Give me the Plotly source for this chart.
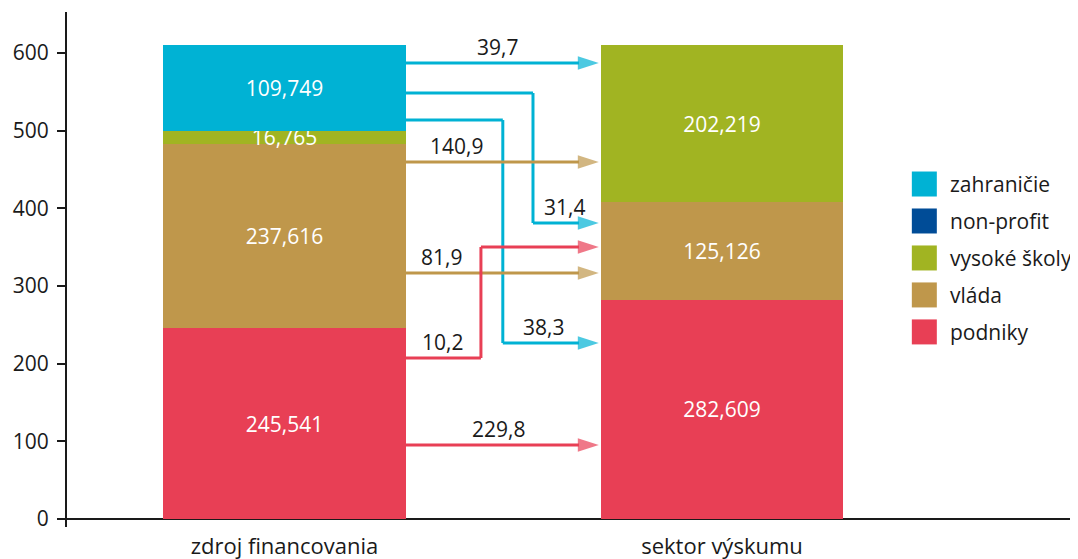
import plotly.graph_objects as go

# ---------------- data ----------------
categories = ["zdroj financovania", "sektor výskumu"]
series_names = ["podniky", "vláda", "vysoké školy", "non-profit", "zahraničie"]
podniky = [245.541, 282.609]
vlada = [237.616, 125.126]
vysoke_skoly = [16.765, 202.219]
non_profit = [0.3, 0.0]
zahranicie = [109.749, 0.0]
series_values = [podniky, vlada, vysoke_skoly, non_profit, zahranicie]

flow_source = ["zahraničie", "zahraničie", "zahraničie", "vláda", "vláda", "podniky", "podniky"]
flow_target = ["vysoké školy", "vláda", "podniky", "vysoké školy", "vláda", "vláda", "podniky"]
flow_values = [39.7, 31.4, 38.3, 140.9, 81.9, 10.2, 229.8]

y_ticks = [0, 100, 200, 300, 400, 500, 600]

# ---------------- layout of the flow arrows (axis units) ----------------
flow_y_out = [587.1, 548.5, 513.7, 459.6, 316.7, 207.3, 95.3]
flow_y_in = [587.1, 381.1, 226.6, 459.6, 316.7, 350.2, 95.3]
flow_x_bend = [None, 0.568, 0.499, None, None, 0.449, None]
flow_label_x = [0.488, 0.641, 0.593, 0.394, 0.358, 0.362, 0.490]
flow_label_on_in = [False, True, True, False, False, False, False]

# ---------------- styles ----------------
colors = {
    "zahraničie": "#00B2D4",
    "non-profit": "#004C97",
    "vysoké školy": "#A1B422",
    "vláda": "#BF974B",
    "podniky": "#E83F55",
}
FONT = "Open Sans, Noto Sans, sans-serif"
TXT = "#1a1a1a"
FS = 21
BAR_W = 0.5554
TIP_GAP = 0.004

bar_x = list(range(len(categories)))

fig = go.Figure()

for name, vals in zip(series_names, series_values):
    labels = [f"{v:.3f}".replace(".", ",") if v >= 1 else "" for v in vals]
    fig.add_trace(go.Bar(
        x=bar_x, y=vals, name=name, width=BAR_W,
        marker=dict(color=colors[name], line=dict(width=0)),
        text=labels, textposition="inside", insidetextanchor="middle",
        textangle=0, textfont=dict(color="white", size=FS, family=FONT),
        showlegend=False, hoverinfo="skip",
    ))

x_start = bar_x[0] + BAR_W / 2
x_end = bar_x[1] - BAR_W / 2 - TIP_GAP

for src, val, yo, yi, xb, lx, on_in in zip(flow_source, flow_values, flow_y_out,
                                           flow_y_in, flow_x_bend, flow_label_x,
                                           flow_label_on_in):
    if xb is None:
        xs, ys = [x_start, x_end], [yo, yi]
    else:
        xs, ys = [x_start, xb, xb, x_end], [yo, yo, yi, yi]
    sizes = [0] * (len(xs) - 1) + [22]
    fig.add_trace(go.Scatter(
        x=xs, y=ys, mode="lines+markers",
        line=dict(color=colors[src], width=3),
        marker=dict(symbol="arrow", size=sizes, angleref="previous",
                    color=colors[src], line=dict(width=0)),
        showlegend=False, hoverinfo="skip",
    ))
    fig.add_annotation(
        x=lx, y=(yi if on_in else yo), xref="x", yref="y",
        text=f"{val:.1f}".replace(".", ","), showarrow=False,
        yanchor="bottom", xanchor="center", yshift=0,
        font=dict(size=FS, color=TXT, family=FONT),
    )

# custom legend (top to bottom: reversed stacking order)
leg_x_sw = 0.848
leg_x_txt = 0.8715
leg_y0 = 0.666
leg_dy = 0.0718
for i, name in enumerate(reversed(series_names)):
    yy = leg_y0 - i * leg_dy
    fig.add_shape(type="rect", xref="paper", yref="paper",
                  xsizemode="pixel", ysizemode="pixel",
                  xanchor=leg_x_sw, yanchor=yy,
                  x0=-12.5, x1=12.5, y0=-12.5, y1=12.5,
                  fillcolor=colors[name], line=dict(width=0))
    fig.add_annotation(x=leg_x_txt, y=yy, xref="paper", yref="paper",
                       text=name, showarrow=False, xanchor="left",
                       yanchor="middle",
                       font=dict(size=21, color=TXT, family=FONT))

y_range = [-10.3, 652.8]
fig.update_layout(
    width=1070, height=551,
    margin=dict(l=59, r=0, t=4, b=32, autoexpand=False),
    barmode="stack",
    plot_bgcolor="white", paper_bgcolor="white",
    font=dict(family=FONT, size=FS, color=TXT),
    showlegend=False,
    uniformtext=dict(mode="show", minsize=FS),
    xaxis=dict(range=[-0.4971, 1.8137], tickvals=bar_x, ticktext=categories,
               showline=False, showgrid=False, zeroline=False, ticks="",
               tickfont=dict(size=22, color=TXT, family=FONT),
               ticklabelstandoff=4, automargin=False),
    yaxis=dict(range=y_range, tickvals=y_ticks, showgrid=False,
               showline=True, linecolor=TXT, linewidth=2,
               ticks="outside", ticklen=8, tickwidth=2, tickcolor=TXT,
               zeroline=True, zerolinecolor=TXT, zerolinewidth=2,
               tickfont=dict(size=FS, color=TXT, family=FONT),
               ticklabelstandoff=4, automargin=False),
    yaxis2=dict(range=y_range, tickvals=y_ticks, overlaying="y", anchor="x",
                side="left", showgrid=False, showline=False, zeroline=False,
                ticks="inside", ticklen=10, tickwidth=2, tickcolor=TXT,
                showticklabels=False),
)

fig.write_html("out.html")
